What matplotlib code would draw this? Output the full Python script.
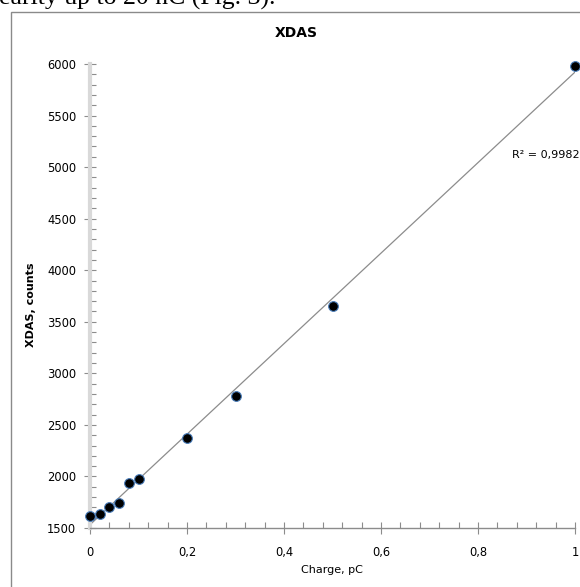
import numpy as np
import matplotlib
matplotlib.use("Agg")
import matplotlib.pyplot as plt
from matplotlib.ticker import MultipleLocator, FuncFormatter
from matplotlib.patches import Rectangle

# ---- data ----
charge_pc = [0, 0.02, 0.04, 0.06, 0.08, 0.1, 0.2, 0.3, 0.5, 1.0]
xdas_counts = [1620, 1640, 1700, 1745, 1940, 1980, 2375, 2780, 3650, 5985]
x_ticks = [0, 0.2, 0.4, 0.6, 0.8, 1.0]
y_ticks = [1500, 2000, 2500, 3000, 3500, 4000, 4500, 5000, 5500, 6000]
title = "XDAS"
x_label = "Charge, pC"
y_label = "XDAS, counts"
r2_text = "R² = 0,9982"
caption = "earity up to 20 nC (Fig. 3)."

W, H = 580, 587
fig = plt.figure(figsize=(W / 100, H / 100), dpi=100)
fig.patch.set_facecolor("white")

def fx(px):
    return px / W

def fy(py):
    return 1 - py / H

# frame of the embedded chart
fig.patches.append(Rectangle((fx(10.5), fy(700)), fx(700), fy(12) - fy(700),
                             transform=fig.transFigure, fill=False,
                             edgecolor="#8a8a8a", linewidth=1.0))
# clipped caption line from the document above
fig.text(fx(-1), fy(5), caption, family="Liberation Serif", fontsize=18.5,
         ha="left", va="baseline", color="black")

ax = fig.add_axes([fx(90), fy(528), fx(575) - fx(90), fy(64) - fy(528)])
ax.set_xlim(0, 1)
ax.set_ylim(1500, 6000)

# trendline
coef = np.polyfit(charge_pc, xdas_counts, 1)
xl = np.array([0, 1.0])
ax.plot(xl, np.polyval(coef, xl), color="#8c8c8c", linewidth=0.9, zorder=2)

ax.plot(charge_pc, xdas_counts, linestyle="none", marker="o", markersize=7,
        markerfacecolor="black", markeredgecolor="#4a7ebb", markeredgewidth=0.8,
        clip_on=False, zorder=3)

for s in ["top", "right"]:
    ax.spines[s].set_visible(False)
ax.spines["left"].set_color("#d9d9d9")
ax.spines["left"].set_linewidth(3)
ax.spines["bottom"].set_color("#8c8c8c")
ax.spines["bottom"].set_linewidth(1)

ax.set_xticks(x_ticks)
ax.set_yticks(y_ticks)
ax.xaxis.set_minor_locator(MultipleLocator(0.04))
ax.yaxis.set_minor_locator(MultipleLocator(100))

def comma_fmt(v, pos):
    s = ("%g" % v).replace(".", ",")
    return s

ax.xaxis.set_major_formatter(FuncFormatter(comma_fmt))
ax.yaxis.set_major_formatter(FuncFormatter(lambda v, p: "%d" % v))

ax.tick_params(axis="both", which="major", direction="inout", length=8,
               width=0.8, color="#8c8c8c", labelsize=8.3, labelcolor="black")
ax.tick_params(axis="both", which="minor", direction="in", length=4,
               width=0.8, color="#8c8c8c")
ax.tick_params(axis="y", which="major", pad=6)
ax.tick_params(axis="x", which="major", pad=9)

fig.text(fx(296), fy(33), title, fontsize=10, fontweight="bold",
         ha="center", va="center")
fig.text(fx(332), fy(570), x_label, fontsize=8, ha="center", va="center")
fig.text(fx(31), fy(305), y_label, fontsize=8, fontweight="bold",
         rotation=90, ha="center", va="center")
fig.text(fx(512), fy(155), r2_text, fontsize=8, ha="left", va="center")

fig.savefig("out.png", dpi=100, facecolor="white")
